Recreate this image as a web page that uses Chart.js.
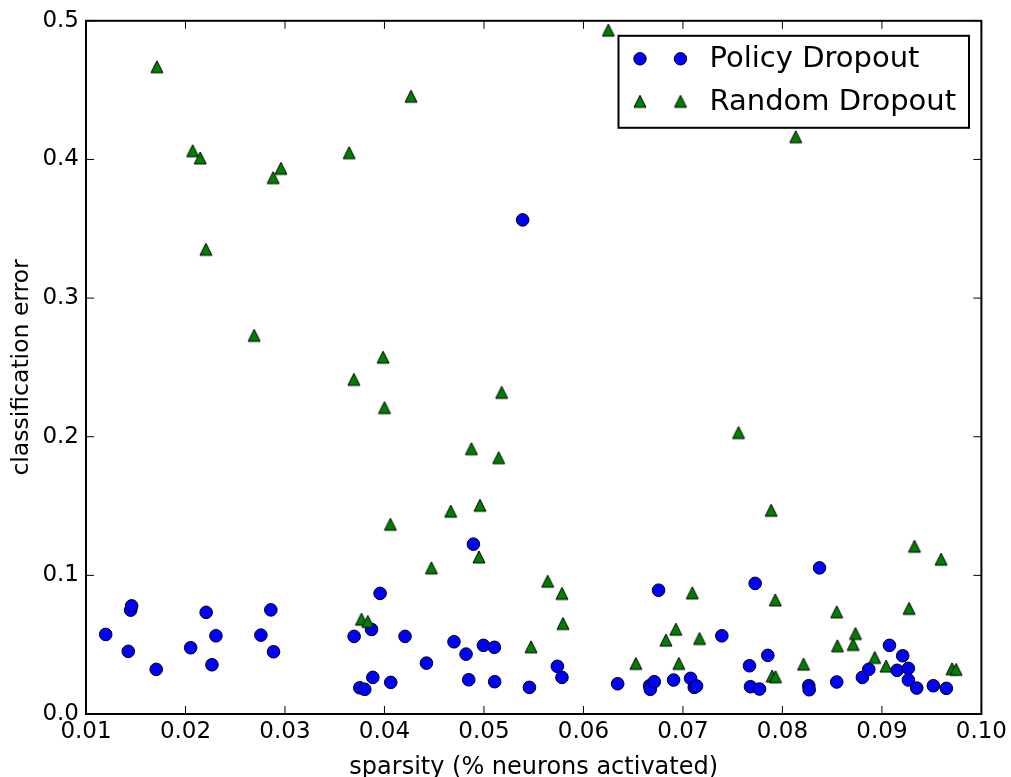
<!DOCTYPE html>
<html>
<head>
<meta charset="utf-8">
<script src="https://cdn.jsdelivr.net/npm/chart.js@4.4.0/dist/chart.umd.min.js"></script>
<style>
  html, body { margin: 0; padding: 0; background: #ffffff; }
  #wrap { width: 1011px; height: 777px; position: relative; }
</style>
</head>
<body>
<div id="wrap"><canvas id="c" width="1011" height="777"></canvas></div>
<script>
// ---- data ----
const seriesNames = ['Policy Dropout', 'Random Dropout'];
const xTitle = 'sparsity (% neurons activated)';
const yTitle = 'classification error';

const xTickValues = [0.01, 0.02, 0.03, 0.04, 0.05, 0.06, 0.07, 0.08, 0.09, 0.10];
const xTickLabels = ['0.01', '0.02', '0.03', '0.04', '0.05', '0.06', '0.07', '0.08', '0.09', '0.10'];
const yTickValues = [0.0, 0.1, 0.2, 0.3, 0.4, 0.5];
const yTickLabels = ['0.0', '0.1', '0.2', '0.3', '0.4', '0.5'];

const policyX = [0.01198, 0.01449, 0.01459, 0.01425, 0.01706, 0.02208, 0.02052, 0.02306, 0.02266, 0.02858,
  0.02758, 0.02885, 0.03956, 0.03695, 0.03870, 0.03883, 0.04063, 0.03752, 0.03802, 0.04207,
  0.04422, 0.04699, 0.04820, 0.04995, 0.05105, 0.04847, 0.05108, 0.05457, 0.05738, 0.05784,
  0.04894, 0.05389, 0.06344, 0.06665, 0.06672, 0.06712, 0.06755, 0.06906, 0.07077, 0.07114,
  0.07137, 0.07391, 0.07726, 0.07669, 0.07853, 0.07679, 0.07770, 0.08373, 0.08265, 0.08269,
  0.08546, 0.08804, 0.08868, 0.09076, 0.09153, 0.09209, 0.09266, 0.09266, 0.09350, 0.09517,
  0.09648];
const policyY = [0.0574, 0.0749, 0.0780, 0.0452, 0.0322, 0.0733, 0.0478, 0.0564, 0.0355, 0.0751,
  0.0569, 0.0449, 0.0870, 0.0560, 0.0610, 0.0264, 0.0228, 0.0189, 0.0178, 0.0560,
  0.0367, 0.0521, 0.0432, 0.0495, 0.0481, 0.0247, 0.0233, 0.0192, 0.0344, 0.0264,
  0.1225, 0.3564, 0.0218, 0.0204, 0.0178, 0.0233, 0.0893, 0.0245, 0.0257, 0.0192,
  0.0202, 0.0564, 0.0942, 0.0348, 0.0423, 0.0197, 0.0180, 0.1054, 0.0204, 0.0175,
  0.0231, 0.0264, 0.0322, 0.0495, 0.0315, 0.0420, 0.0329, 0.0245, 0.0187, 0.0204,
  0.0185];

const randomX = [0.01713, 0.02072, 0.02148, 0.02205, 0.02690, 0.02881, 0.02959, 0.03645, 0.03692, 0.03986,
  0.04000, 0.04060, 0.04267, 0.04472, 0.04666, 0.04874, 0.04950, 0.04960, 0.05148, 0.05178,
  0.05473, 0.05640, 0.05784, 0.05794, 0.06250, 0.06527, 0.06829, 0.06929, 0.06959, 0.07094,
  0.07167, 0.07559, 0.07887, 0.07928, 0.07897, 0.07931, 0.08134, 0.08212, 0.08546, 0.08553,
  0.08711, 0.08734, 0.08928, 0.09042, 0.09273, 0.09327, 0.09595, 0.09705, 0.09746, 0.03769,
  0.03832];
const randomY = [0.4669, 0.4063, 0.4011, 0.3352, 0.2731, 0.3869, 0.3936, 0.4049, 0.2414, 0.2574,
  0.2210, 0.1369, 0.4456, 0.1054, 0.1463, 0.1914, 0.1133, 0.1506, 0.1849, 0.2320,
  0.0485, 0.0958, 0.0870, 0.0653, 0.4933, 0.0365, 0.0533, 0.0612, 0.0365, 0.0874,
  0.0545, 0.2030, 0.1470, 0.0823, 0.0274, 0.0269, 0.4164, 0.0360, 0.0737, 0.0492,
  0.0502, 0.0581, 0.0408, 0.0346, 0.0762, 0.1210, 0.1117, 0.0326, 0.0322, 0.0684,
  0.0668];

// ---- styling ----
const FONT = 'DejaVu Sans';
const BLUE = '#0000ff';
const GREEN = '#008000';

// matplotlib-like '^' marker as an image point style
function makeTriangle(size) {
  const c = document.createElement('canvas');
  c.width = size + 4; c.height = size + 4;
  const g = c.getContext('2d');
  const cx = c.width / 2, cy = c.height / 2, h = size / 2;
  g.beginPath();
  g.moveTo(cx, cy - h);
  g.lineTo(cx - h, cy + h);
  g.lineTo(cx + h, cy + h);
  g.closePath();
  g.fillStyle = GREEN;
  g.fill();
  g.lineWidth = 1;
  g.strokeStyle = '#000';
  g.lineJoin = 'miter';
  g.stroke();
  return c;
}
const triImg = makeTriangle(12);
const triImgLegend = makeTriangle(12);

const framePlugin = {
  id: 'mplFrame',
  afterDatasetsDraw(chart) {
    const { ctx, chartArea: a, scales } = chart;
    const xs = scales.x, ys = scales.y;
    const TL = 8;
    ctx.save();
    // inward ticks on all four sides
    ctx.strokeStyle = '#000';
    ctx.lineWidth = 1;
    ctx.beginPath();
    xTickValues.forEach(v => {
      const px = xs.getPixelForValue(v);
      ctx.moveTo(px, a.bottom); ctx.lineTo(px, a.bottom - TL);
      ctx.moveTo(px, a.top); ctx.lineTo(px, a.top + TL);
    });
    yTickValues.forEach(v => {
      const py = ys.getPixelForValue(v);
      ctx.moveTo(a.left, py); ctx.lineTo(a.left + TL, py);
      ctx.moveTo(a.right, py); ctx.lineTo(a.right - TL, py);
    });
    ctx.stroke();
    // spines
    ctx.lineWidth = 2;
    ctx.strokeRect(a.left, a.top, a.right - a.left, a.bottom - a.top);

    // legend (matplotlib style, two markers per entry)
    const bx = a.left + 532.5, by = a.top + 15, bw = 350.5, bh = 92;
    ctx.fillStyle = '#fff';
    ctx.fillRect(bx, by, bw, bh);
    ctx.lineWidth = 2;
    ctx.strokeStyle = '#000';
    ctx.strokeRect(bx, by, bw, bh);
    const rows = [by + 23, by + 65.5];
    const mx = [bx + 21.5, bx + 62];
    // row 1: circles
    mx.forEach(x => {
      ctx.beginPath();
      ctx.arc(x, rows[0], 6.2, 0, Math.PI * 2);
      ctx.fillStyle = BLUE; ctx.fill();
      ctx.lineWidth = 1; ctx.strokeStyle = '#000'; ctx.stroke();
    });
    // row 2: triangles
    mx.forEach(x => {
      ctx.drawImage(triImgLegend, x - triImgLegend.width / 2, rows[1] - triImgLegend.height / 2);
    });
    ctx.fillStyle = '#000';
    ctx.font = '29px "' + FONT + '"';
    ctx.textBaseline = 'middle';
    ctx.textAlign = 'left';
    chart.data.datasets.forEach((ds, i) => {
      ctx.fillText(ds.label, bx + 91, rows[i] + 1);
    });
    ctx.restore();
  }
};

const ctx = document.getElementById('c').getContext('2d');
new Chart(ctx, {
  type: 'scatter',
  data: {
    datasets: [
      {
        label: seriesNames[0],
        data: policyX.map((x, i) => ({ x: x, y: policyY[i] })),
        pointStyle: 'circle',
        pointRadius: 6.3,
        pointBackgroundColor: BLUE,
        pointBorderColor: '#000',
        pointBorderWidth: 1,
        order: 1
      },
      {
        label: seriesNames[1],
        data: randomX.map((x, i) => ({ x: x, y: randomY[i] })),
        pointStyle: triImg,
        pointRadius: 7,
        pointBackgroundColor: GREEN,
        pointBorderColor: '#000',
        pointBorderWidth: 1,
        order: 0
      }
    ]
  },
  options: {
    responsive: false,
    animation: false,
    events: [],
    layout: { padding: { top: 20, right: 29, left: 0, bottom: 0 } },
    plugins: {
      legend: { display: false },
      tooltip: { enabled: false }
    },
    scales: {
      x: {
        type: 'linear',
        min: 0.01, max: 0.10,
        afterBuildTicks: s => { s.ticks = xTickValues.map(v => ({ value: v })); },
        afterFit: s => { s.height = 63; },
        grid: { display: false, drawTicks: false },
        border: { display: false },
        ticks: {
          padding: 4,
          color: '#000',
          font: { family: FONT, size: 23 },
          maxRotation: 0,
          autoSkip: false,
          callback: (v, i) => xTickLabels[i]
        },
        title: {
          display: true,
          text: xTitle,
          color: '#000',
          font: { family: FONT, size: 24, lineHeight: 0.8 },
          padding: { top: 0, bottom: 0 }
        }
      },
      y: {
        type: 'linear',
        min: 0, max: 0.5,
        afterBuildTicks: s => { s.ticks = yTickValues.map(v => ({ value: v })); },
        afterFit: s => { s.width = 86; },
        grid: { display: false, drawTicks: false },
        border: { display: false },
        ticks: {
          padding: 7,
          color: '#000',
          font: { family: FONT, size: 23 },
          autoSkip: false,
          callback: (v, i) => yTickLabels[i]
        },
        title: {
          display: true,
          text: yTitle,
          color: '#000',
          font: { family: FONT, size: 23.5, lineHeight: 1 },
          padding: { top: 10.5, bottom: 0 }
        }
      }
    }
  },
  plugins: [framePlugin]
});
</script>
</body>
</html>
